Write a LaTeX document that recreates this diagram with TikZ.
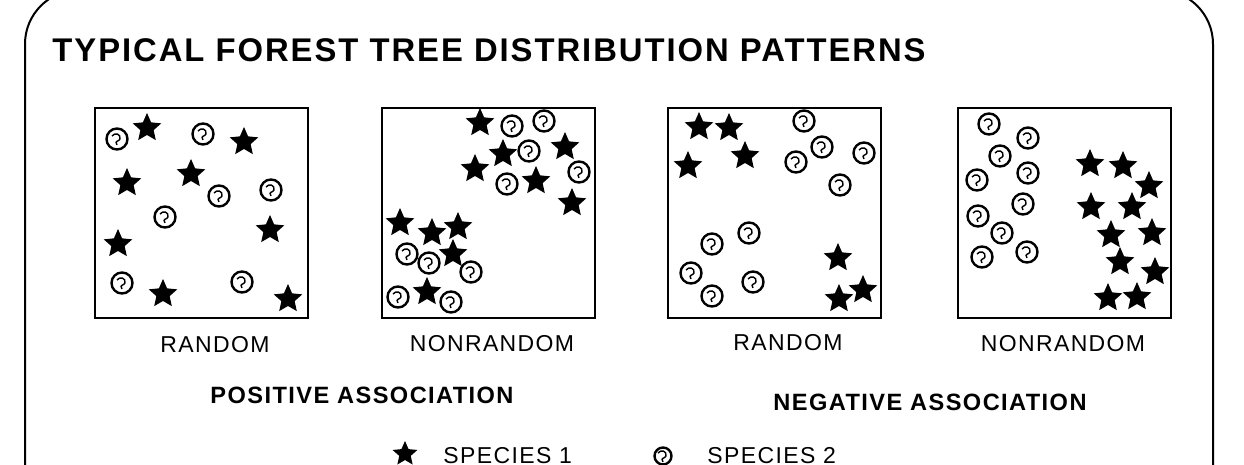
\documentclass[tikz,border=0pt]{standalone}
\usepackage{fontspec}
\setmainfont{Liberation Sans}
\newfontfamily\handfont[LetterSpace=6]{Liberation Sans}
\usetikzlibrary{shapes.geometric}

\begin{document}
\begin{tikzpicture}[x=0.5pt, y=-0.5pt,
  tree1/.style={star, star points=5, star point ratio=2.15, fill=black, inner sep=0pt, minimum size=15pt},
  tree2/.style={circle, draw, line width=1.2pt, inner sep=0pt, minimum size=10.5pt,
    path picture={\draw[shift={(path picture bounding box.center)}, line width=0.7pt] (-2.5pt,1.5pt) .. controls (-1pt,3.5pt) and (2pt,2.5pt) .. (1.5pt,0pt) .. controls (1pt,-1.5pt) and (-1.5pt,-0.5pt) .. (0pt,-3pt);}},
  panel/.style={draw, line width=1.2pt, minimum width=106.5pt, minimum height=105pt, inner sep=0pt},
  patlabel/.style={font=\handfont\fontsize{11.5}{12}\selectfont},
  assoc/.style={font=\handfont\bfseries\fontsize{11.8}{12}\selectfont}]
\useasboundingbox (0,0) rectangle (1244,465);
\clip (0,0) rectangle (1244,465);
\draw[line width=1pt, rounded corners=27pt] (25,500) -- (25,-10) -- (1213,-10) -- (1213,500);
\node[anchor=base west, inner sep=0pt, font=\handfont\bfseries\fontsize{16.4}{17}\selectfont] (title) at (52,62) {TYPICAL FOREST TREE DISTRIBUTION PATTERNS};

\node[panel] (rand1) at (201.5,213) {};
\node[panel] (nonrand1) at (488.5,213) {};
\node[panel] (rand2) at (774.5,213) {};
\node[panel] (nonrand2) at (1064.5,213) {};

\foreach \x/\y [count=\i] in {147/128, 244/142, 127/183, 191/174, 270/230, 118/244, 163/294, 288/299}
  \node[tree1] (ra\i) at (\x,\y) {};
\foreach \x/\y [count=\i] in {117/139, 203/134, 271/190, 219/196, 165/217, 122/283, 242/282}
  \node[tree2] (rb\i) at (\x,\y) {};
\foreach \x/\y [count=\i] in {480/123, 503/154, 475/169, 536/181, 565/147, 572/203, 400/223, 432/233, 458/227, 453/254, 427/292}
  \node[tree1] (na\i) at (\x,\y) {};
\foreach \x/\y [count=\i] in {512/126, 544/121, 529/151, 579/172, 507/184, 407/254, 429/263, 471/272, 398/297, 451/302}
  \node[tree2] (nb\i) at (\x,\y) {};
\foreach \x/\y [count=\i] in {699/127, 729/128, 745/156, 688/166, 838/258, 839/299, 863/290}
  \node[tree1] (rc\i) at (\x,\y) {};
\foreach \x/\y [count=\i] in {804/121, 822/147, 864/153, 796/162, 840/185, 749/233, 712/244, 691/273, 712/296, 753/282}
  \node[tree2] (rd\i) at (\x,\y) {};
\foreach \x/\y [count=\i] in {1090/164, 1123/166, 1149/186, 1091/207, 1132/207, 1111/235, 1152/233, 1120/262, 1155/272, 1108/298, 1137/297}
  \node[tree1] (nc\i) at (\x,\y) {};
\foreach \x/\y [count=\i] in {989/124, 1028/138, 1000/156, 1028/173, 977/180, 1023/204, 978/216, 1002/233, 1027/252, 982/257}
  \node[tree2] (nd\i) at (\x,\y) {};

\node[patlabel] (lrand1) at (215,345) {RANDOM};
\node[patlabel] (lnonrand1) at (492,344) {NONRANDOM};
\node[patlabel] (lrand2) at (788,343) {RANDOM};
\node[patlabel] (lnonrand2) at (1063,344) {NONRANDOM};
\node[assoc] (pos) at (362,395) {POSITIVE ASSOCIATION};
\node[assoc] (neg) at (930,402) {NEGATIVE ASSOCIATION};

\node[tree1, minimum size=13pt] (key1) at (405,454) {};
\node[patlabel, anchor=base west, inner sep=0pt] (key1text) at (443,463) {SPECIES 1};
\node[tree2, minimum size=8.5pt] (key2) at (663,456) {};
\node[patlabel, anchor=base west, inner sep=0pt] (key2text) at (707,463) {SPECIES 2};
\end{tikzpicture}
\end{document}
